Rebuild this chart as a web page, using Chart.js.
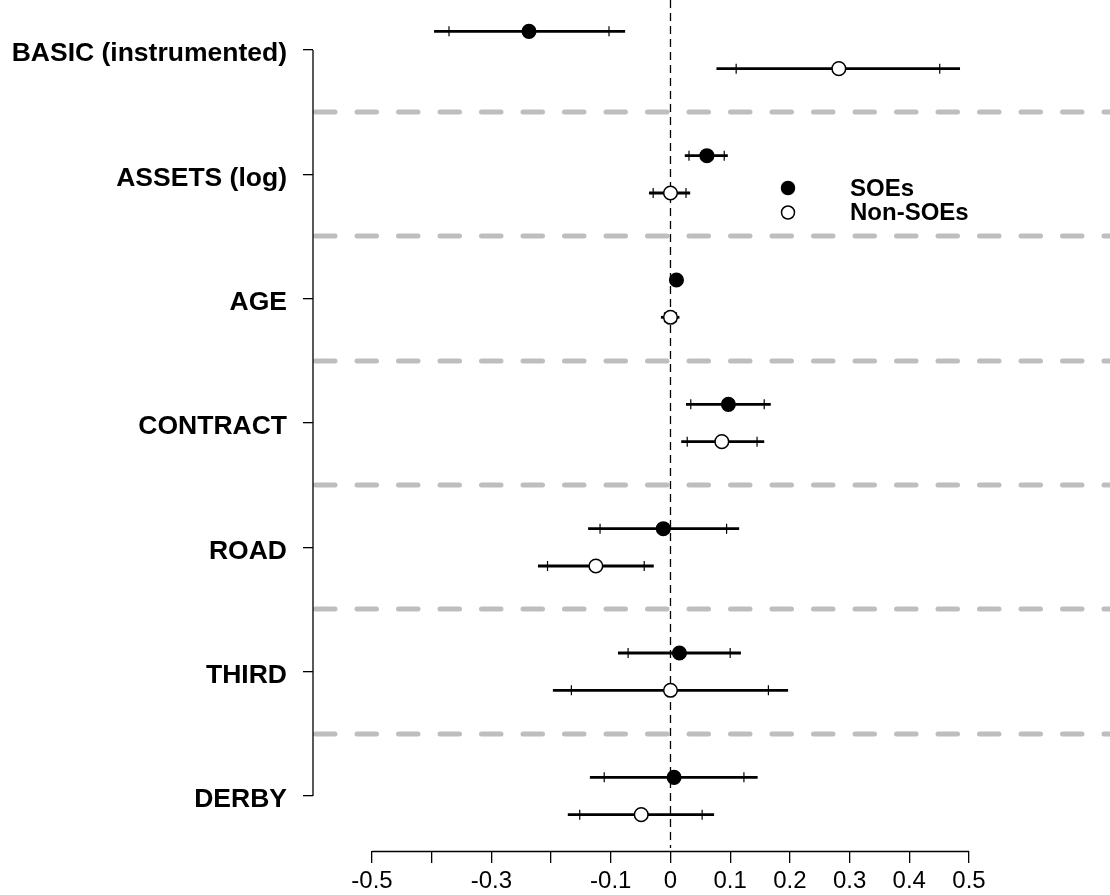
<!DOCTYPE html>
<html>
<head>
<meta charset="utf-8">
<script src="https://cdn.jsdelivr.net/npm/chart.js@4.4.1/dist/chart.umd.min.js"></script>
<style>
  body { margin: 0; background: #fff; }
  #wrap { width: 1110px; height: 895px; }
</style>
</head>
<body>
<div id="wrap"><canvas id="grafikKoef" width="1110" height="895"></canvas></div>
<script>
const variables = ["BASIC (instrumented)", "ASSETS (log)", "AGE", "CONTRACT", "ROAD", "THIRD", "DERBY"];

// SOEs: estimate, 95% and 90% intervals
const soeEst  = [-0.237, 0.061, 0.010, 0.097, -0.012, 0.015, 0.006];
const soeLo95 = [-0.396, 0.024, 0.004, 0.026, -0.138, -0.088, -0.135];
const soeHi95 = [-0.076, 0.096, 0.016, 0.168, 0.115, 0.118, 0.146];
const soeLo90 = [-0.371, 0.031, 0.005, 0.034, -0.118, -0.071, -0.111];
const soeHi90 = [-0.103, 0.090, 0.015, 0.157, 0.094, 0.100, 0.123];

// Non-SOEs
const nonEst  = [0.282, 0.000, 0.000, 0.086, -0.125, 0.000, -0.049];
const nonLo95 = [0.077, -0.036, -0.016, 0.018, -0.222, -0.197, -0.172];
const nonHi95 = [0.485, 0.033, 0.015, 0.157, -0.028, 0.197, 0.073];
const nonLo90 = [0.110, -0.029, -0.010, 0.028, -0.206, -0.166, -0.152];
const nonHi90 = [0.451, 0.026, 0.010, 0.145, -0.044, 0.164, 0.053];

const xTicks = [-0.5, -0.4, -0.3, -0.2, -0.1, 0, 0.1, 0.2, 0.3, 0.4, 0.5];
const xTickLabels = ["-0.5", "", "-0.3", "", "-0.1", "0", "0.1", "0.2", "0.3", "0.4", "0.5"];

const geser = 0.15;
function titik(est, d) {
    return est.map((v, i) => ({ x: v, y: i + d }));
}

const pluginGambar = {
    id: "gambar",
    beforeDatasetsDraw(chart) {
        const { ctx, chartArea: a, scales: { x, y } } = chart;
        ctx.save();

        // garis pemisah abu-abu
        ctx.strokeStyle = "#bebebe";
        ctx.lineWidth = 5;
        ctx.lineCap = "round";
        ctx.setLineDash([19.5, 22]);
        for (let k = 0; k < variables.length - 1; k++) {
            const py = Math.round(y.getPixelForValue(k + 0.5));
            ctx.beginPath();
            ctx.moveTo(a.left + 2.5, py);
            ctx.lineTo(a.right + 20, py);
            ctx.stroke();
        }

        // garis nol
        ctx.strokeStyle = "#000";
        ctx.lineWidth = 1.3;
        ctx.lineCap = "butt";
        ctx.setLineDash([8, 5]);
        const x0 = x.getPixelForValue(0);
        ctx.beginPath();
        ctx.moveTo(x0, a.top);
        ctx.lineTo(x0, a.bottom - 3);
        ctx.stroke();
        ctx.setLineDash([]);

        // sumbu
        ctx.lineWidth = 1.3;
        ctx.beginPath();
        ctx.moveTo(a.left, y.getPixelForValue(0));
        ctx.lineTo(a.left, y.getPixelForValue(variables.length - 1));
        ctx.moveTo(x.getPixelForValue(xTicks[0]), a.bottom + 0.5);
        ctx.lineTo(x.getPixelForValue(xTicks[xTicks.length - 1]), a.bottom + 0.5);
        ctx.stroke();

        // interval kepercayaan
        chart.data.datasets.forEach(ds => {
            ds.data.forEach((p, i) => {
                const py = y.getPixelForValue(p.y);
                ctx.lineWidth = 2.8;
                ctx.beginPath();
                ctx.moveTo(x.getPixelForValue(ds.lo95[i]), py);
                ctx.lineTo(x.getPixelForValue(ds.hi95[i]), py);
                ctx.stroke();
                ctx.lineWidth = 1.2;
                ctx.beginPath();
                [ds.lo90[i], ds.hi90[i]].forEach(v => {
                    const px = x.getPixelForValue(v);
                    ctx.moveTo(px, py - 5);
                    ctx.lineTo(px, py + 5);
                });
                ctx.stroke();
            });
        });
        ctx.restore();
    },
    afterDraw(chart) {
        const ctx = chart.ctx;
        ctx.save();
        ctx.font = "bold 24px 'Liberation Sans', Arial, sans-serif";
        ctx.textBaseline = "middle";
        chart.data.datasets.forEach((ds, k) => {
            const py = 188 + k * 24.5;
            ctx.beginPath();
            ctx.arc(788, py, 6.5, 0, Math.PI * 2);
            ctx.fillStyle = ds.backgroundColor;
            ctx.fill();
            ctx.lineWidth = 1.5;
            ctx.strokeStyle = "#000";
            ctx.stroke();
            ctx.fillStyle = "#000";
            ctx.fillText(ds.label, 850, py + 1);
        });
        ctx.restore();
    }
};

Chart.defaults.color = "#000";
Chart.defaults.font.family = "'Liberation Sans', Arial, sans-serif";

new Chart(document.getElementById("grafikKoef"), {
    type: "scatter",
    data: {
        datasets: [
            {
                label: "SOEs",
                data: titik(soeEst, -geser),
                lo95: soeLo95, hi95: soeHi95, lo90: soeLo90, hi90: soeHi90,
                backgroundColor: "#000",
                borderColor: "#000",
                borderWidth: 1.5,
                pointRadius: 6.8,
                pointHoverRadius: 6.8,
            },
            {
                label: "Non-SOEs",
                data: titik(nonEst, geser),
                lo95: nonLo95, hi95: nonHi95, lo90: nonLo90, hi90: nonHi90,
                backgroundColor: "#fff",
                borderColor: "#000",
                borderWidth: 1.5,
                pointRadius: 6.8,
                pointHoverRadius: 6.8,
            },
        ],
    },
    options: {
        responsive: false,
        animation: false,
        events: [],
        layout: { padding: 0, autoPadding: false },
        plugins: { legend: { display: false }, tooltip: { enabled: false } },
        scales: {
            x: {
                type: "linear",
                min: -0.5988,
                max: 0.7362,
                border: { display: false },
                grid: { drawOnChartArea: false, drawTicks: true, tickLength: 12, color: "#000", lineWidth: 1.3 },
                afterBuildTicks: s => { s.ticks = xTicks.map(v => ({ value: v })); },
                ticks: {
                    autoSkip: false,
                    maxRotation: 0,
                    padding: 4,
                    font: { size: 24 },
                    callback: (v, i) => xTickLabels[i],
                },
                afterFit: s => {
                    s.height = 44;
                    s.paddingLeft = 0; s.paddingRight = 0;
                },
            },
            y: {
                type: "linear",
                reverse: true,
                min: -0.4021,
                max: 6.4424,
                border: { display: false },
                grid: { drawOnChartArea: false, drawTicks: true, tickLength: 10, color: "#000", lineWidth: 1.3 },
                afterBuildTicks: s => { s.ticks = variables.map((_, i) => ({ value: i })); },
                ticks: {
                    autoSkip: false,
                    padding: 16,
                    labelOffset: 4,
                    font: { size: 26.5, weight: "bold" },
                    callback: (v, i) => variables[i],
                },
                afterFit: s => {
                    s.width = 313;
                    s.paddingTop = 0; s.paddingBottom = 0;
                },
            },
        },
    },
    plugins: [pluginGambar],
});
</script>
</body>
</html>
